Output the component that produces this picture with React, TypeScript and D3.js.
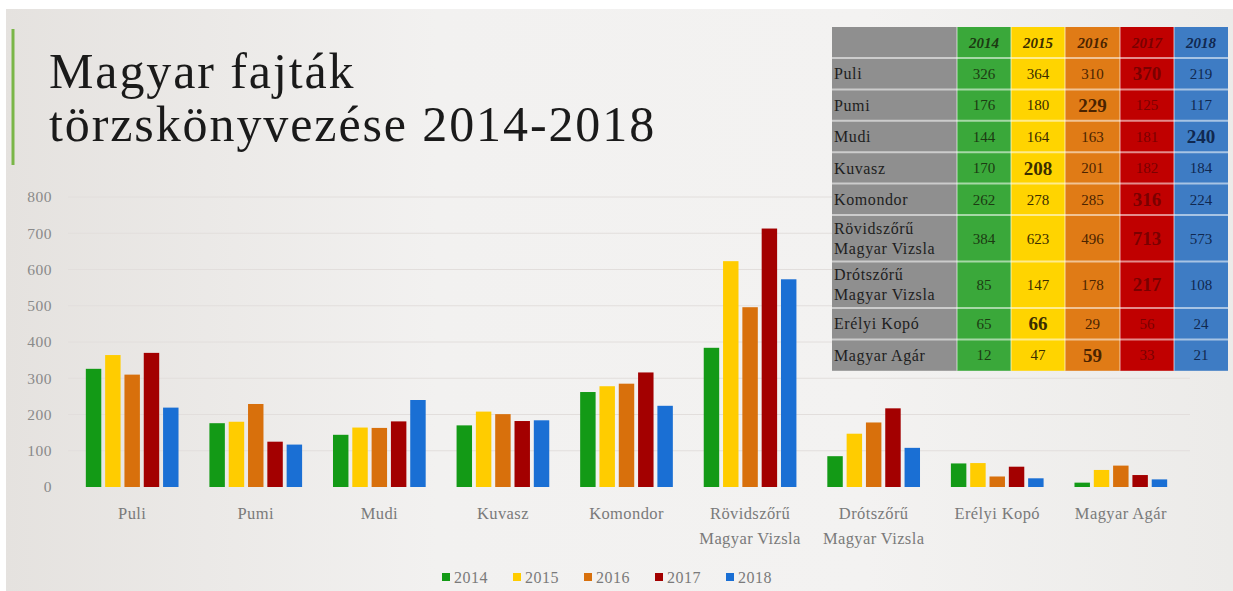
import React from "react";
import * as d3 from "d3";

const categories = ["Puli", "Pumi", "Mudi", "Kuvasz", "Komondor", "Rövidszőrű\nMagyar Vizsla", "Drótszőrű\nMagyar Vizsla", "Erélyi Kopó", "Magyar Agár"];
const years = ["2014", "2015", "2016", "2017", "2018"];
const v2014 = [326, 176, 144, 170, 262, 384, 85, 65, 12];
const v2015 = [364, 180, 164, 208, 278, 623, 147, 66, 47];
const v2016 = [310, 229, 163, 201, 285, 496, 178, 29, 59];
const v2017 = [370, 125, 181, 182, 316, 713, 217, 56, 33];
const v2018 = [219, 117, 240, 184, 224, 573, 108, 24, 21];
const yTicks = [0, 100, 200, 300, 400, 500, 600, 700, 800];
const titleLines = ["Magyar fajták", "törzskönyvezése 2014-2018"];

const series = [v2014, v2015, v2016, v2017, v2018];
const barColors = ["#139a16", "#ffcc00", "#d8700c", "#a30000", "#1a6fd4"];
const tableColors = ["#3aa83a", "#ffd400", "#e07b16", "#c00000", "#3e7cc4"];
const tableText = ["#1c3a12", "#3a2d00", "#4a2300", "#7a0000", "#102850"];

const W = 1233;
const H = 591;

export default function App() {
  const x0 = d3.scaleBand().domain(categories).range([71, 1182]).paddingInner(0.25).paddingOuter(0.12);
  const x1 = d3.scaleBand().domain(years).range([0, x0.bandwidth()]).paddingInner(0.2);
  const y = d3.scaleLinear().domain([0, 800]).range([487, 197]);

  // table geometry
  const colX = [832, 957, 1011, 1065, 1120, 1174, 1228];
  const rowH = categories.map((c) => (c.includes("\n") ? 46.5 : 31.4));
  const rowY: number[] = [];
  let acc = 58;
  rowH.forEach((h) => {
    rowY.push(acc);
    acc += h;
  });
  const tableTop = 27;
  const tableBottom = acc;
  const serif = "'Liberation Serif', 'DejaVu Serif', serif";

  return (
    <svg width={W} height={H} style={{ position: "absolute", left: 0, top: 0 }} fontFamily={serif}>
      <defs>
        <linearGradient id="bg" x1="0" y1="0" x2="1" y2="0">
          <stop offset="0" stopColor="#e5e2df" />
          <stop offset="0.35" stopColor="#f2f1f0" />
          <stop offset="0.7" stopColor="#f3f2f1" />
          <stop offset="1" stopColor="#ecebe9" />
        </linearGradient>
      </defs>
      <rect x={0} y={0} width={W} height={H} fill="#ffffff" />
      <rect x={6} y={9} width={W - 6} height={H - 9} fill="url(#bg)" />
      <line x1={13} x2={13} y1={29} y2={165} stroke="#7ab648" strokeWidth={3} />

      {titleLines.map((t, i) => (
        <text key={t} x={49} y={88 + i * 53} fontSize={50} letterSpacing={1.9} fill="#1a1a1a">
          {t}
        </text>
      ))}

      {/* gridlines */}
      {yTicks.map((t) => (
        <g key={t}>
          {t > 0 && <line x1={68} x2={1190} y1={y(t)} y2={y(t)} stroke="#e2dedc" strokeWidth={1} />}
          <text x={52} y={y(t)} dy="0.35em" textAnchor="end" fontSize={15.5} letterSpacing={0.5} fill="#8a8a8a">
            {t}
          </text>
        </g>
      ))}

      {/* bars */}
      {categories.map((c, ci) => (
        <g key={c} transform={`translate(${x0(c)},0)`}>
          {years.map((yr, si) => (
            <rect
              key={yr}
              x={x1(yr)}
              y={y(series[si][ci])}
              width={x1.bandwidth()}
              height={y(0) - y(series[si][ci])}
              fill={barColors[si]}
            />
          ))}
        </g>
      ))}

      {/* category labels */}
      {categories.map((c) => {
        const cx = (x0(c) as number) + x0.bandwidth() / 2;
        return (
          <text key={c} x={cx} y={519} textAnchor="middle" fontSize={16.5} letterSpacing={0.4} fill="#7a7a7a">
            {c.split("\n").map((l, li) => (
              <tspan key={l} x={cx} dy={li === 0 ? 0 : 25}>
                {l}
              </tspan>
            ))}
          </text>
        );
      })}

      {/* legend */}
      {years.map((yr, i) => {
        const lx = 442 + i * 71;
        return (
          <g key={yr}>
            <rect x={lx} y={573} width={8} height={8} fill={barColors[i]} />
            <text x={lx + 12} y={577} dy="0.35em" fontSize={16} letterSpacing={0.5} fill="#7a7a7a">
              {yr}
            </text>
          </g>
        );
      })}

      {/* table */}
      <rect x={colX[0]} y={tableTop} width={colX[1] - colX[0]} height={tableBottom - tableTop} fill="#8f8f8f" />
      {years.map((yr, i) => (
        <rect key={yr} x={colX[i + 1]} y={tableTop} width={colX[i + 2] - colX[i + 1]} height={tableBottom - tableTop} fill={tableColors[i]} />
      ))}
      {years.map((yr, i) => (
        <text
          key={yr}
          x={(colX[i + 1] + colX[i + 2]) / 2}
          y={(tableTop + 58) / 2}
          dy="0.35em"
          textAnchor="middle"
          fontSize={15}
          fontWeight="bold"
          fontStyle="italic"
          fill={tableText[i]}
        >
          {yr}
        </text>
      ))}
      {categories.map((c, ri) => {
        const top = rowY[ri];
        const h = rowH[ri];
        const lines = c.split("\n");
        const vals = series.map((s) => s[ri]);
        const mx = Math.max(...vals);
        return (
          <g key={c}>
            <line x1={colX[0]} x2={colX[6]} y1={top} y2={top} stroke="#ffffff" strokeOpacity={0.55} strokeWidth={2} />
            <text x={834} y={top + h / 2} fontSize={16} letterSpacing={0.6} fill="#1e1e1e">
              {lines.map((l, li) => (
                <tspan key={l} x={834} y={top + h / 2 + (li - (lines.length - 1) / 2) * 20} dy="0.35em">
                  {l}
                </tspan>
              ))}
            </text>
            {vals.map((v, si) => (
              <text
                key={si}
                x={(colX[si + 1] + colX[si + 2]) / 2}
                y={top + h / 2}
                dy="0.35em"
                textAnchor="middle"
                fontSize={v === mx ? 19 : 15}
                fontWeight={v === mx ? "bold" : "normal"}
                fill={tableText[si]}
              >
                {v}
              </text>
            ))}
          </g>
        );
      })}
      {colX.slice(1, 6).map((cx) => (
        <line key={cx} x1={cx} x2={cx} y1={tableTop} y2={tableBottom} stroke="#ffffff" strokeOpacity={0.45} strokeWidth={1.5} />
      ))}
    </svg>
  );
}
